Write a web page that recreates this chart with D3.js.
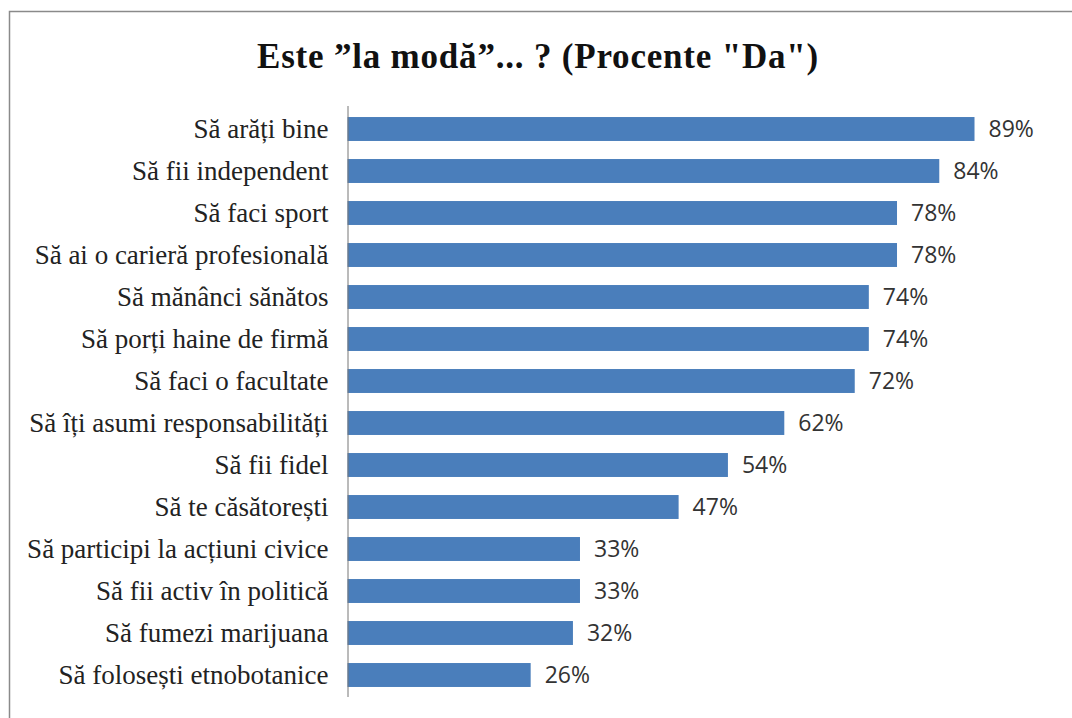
<!doctype html>
<html lang="ro">
<head>
<meta charset="utf-8">
<title>Este la modă</title>
<script src="https://d3js.org/d3.v7.min.js"></script>
<style>
  body { margin: 0; background: #fff; }
</style>
</head>
<body>
<div class="chart"></div>
<script>
// data
const categories = [
  "Să arăți bine",
  "Să fii independent",
  "Să faci sport",
  "Să ai o carieră profesională",
  "Să mănânci sănătos",
  "Să porți haine de firmă",
  "Să faci o facultate",
  "Să îți asumi responsabilități",
  "Să fii fidel",
  "Să te căsătorești",
  "Să participi la acțiuni civice",
  "Să fii activ în politică",
  "Să fumezi marijuana",
  "Să folosești etnobotanice"
];
const values = [89, 84, 78, 78, 74, 74, 72, 62, 54, 47, 33, 33, 32, 26];
const title = "Este \u201dla modă\u201d... ? (Procente \"Da\")";

const width = 1072, height = 718;

const svg = d3.select(".chart")
  .append("svg")
  .attr("width", width)
  .attr("height", height);

// frame (only top and left edges are visible)
svg.append("path")
  .attr("d", "M9.5," + height + "V11.5H" + width)
  .attr("fill", "none")
  .attr("stroke", "#8a8a8a")
  .attr("stroke-width", 1.5);

svg.append("text")
  .attr("x", 538)
  .attr("y", 68)
  .attr("text-anchor", "middle")
  .style("font", "bold 35px 'Liberation Serif', serif")
  .style("letter-spacing", "0.8px")
  .attr("fill", "#111")
  .text(title);

const x = d3.scaleLinear()
  .domain([0, 100])
  .range([347.5, 1052]);

const y = d3.scaleBand()
  .domain(categories)
  .range([108, 696])
  .paddingInner(0.43)
  .paddingOuter(0.215);

const rows = categories.map((c, i) => ({name: c, value: values[i]}));

svg.append("g")
  .selectAll("rect")
  .data(rows)
  .join("rect")
  .attr("x", x(0))
  .attr("y", d => y(d.name))
  .attr("width", d => x(d.value) - x(0))
  .attr("height", y.bandwidth())
  .attr("fill", "#4a7ebb");

// category axis
const yAxis = svg.append("g")
  .attr("transform", "translate(" + x(0) + ",0)")
  .call(d3.axisLeft(y).tickSize(0).tickPadding(19));
yAxis.select(".domain")
  .attr("d", "M0.5,106V697")
  .attr("stroke", "#777");
yAxis.selectAll("text")
  .attr("dy", "0.34em")
  .style("font", "27px 'Liberation Serif', serif")
  .attr("fill", "#222");

svg.append("g")
  .selectAll("text")
  .data(rows)
  .join("text")
  .attr("x", d => x(d.value) + 14)
  .attr("y", d => y(d.name) + y.bandwidth() / 2)
  .attr("dy", "0.36em")
  .style("font", "23px 'Open Sans', sans-serif")
  .attr("fill", "#333")
  .text(d => d.value + "%");
</script>
</body>
</html>
